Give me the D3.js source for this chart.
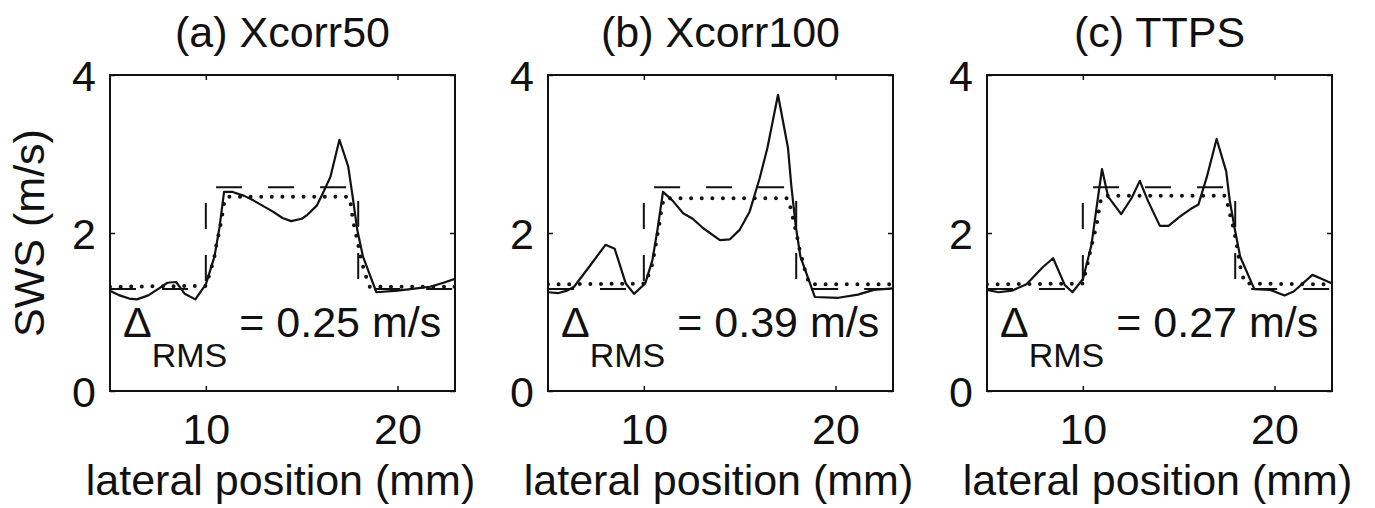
<!DOCTYPE html>
<html><head><meta charset="utf-8">
<script src="https://cdn.jsdelivr.net/npm/d3@7"></script>
<style>
html,body{margin:0;padding:0;background:#fff;}
svg{display:block;font-family:"Liberation Sans",Arial,sans-serif;}
</style></head>
<body>
<svg id="chart" width="1375" height="508"></svg>
<script>
// ---- data ----
const titles = ["(a) Xcorr50", "(b) Xcorr100", "(c) TTPS"];
const rmsValues = ["0.25", "0.39", "0.27"];
const xTicks = [10, 20];
const yTicks = [0, 2, 4];
const xDomain = [5, 23];
const yDomain = [0, 4];

// measured SWS (solid)
const xcorr50 = [[5,1.27],[5.5,1.21],[6,1.17],[6.4,1.16],[7,1.21],[7.5,1.29],[8,1.37],[8.45,1.38],[8.9,1.23],[9.45,1.16],[10,1.35],[10.45,1.70],[10.72,2.08],[10.95,2.52],[11.4,2.52],[12,2.47],[12.5,2.41],[13,2.34],[13.5,2.27],[14,2.19],[14.45,2.15],[15,2.18],[15.3,2.23],[15.8,2.35],[16.1,2.50],[16.5,2.71],[16.97,3.18],[17.43,2.84],[17.66,2.46],[17.9,2.04],[18.2,1.70],[18.9,1.25],[20,1.27],[21,1.30],[21.7,1.32],[22.4,1.37],[23,1.42]];
const xcorr100 = [[5,1.25],[5.55,1.24],[6.0,1.27],[6.36,1.32],[7.14,1.57],[8.0,1.85],[8.48,1.80],[9.06,1.36],[9.49,1.23],[10.07,1.36],[10.45,1.66],[10.71,2.04],[11.0,2.52],[11.5,2.41],[12.05,2.25],[12.55,2.18],[13.1,2.06],[13.97,1.91],[14.49,1.92],[15.0,2.04],[15.52,2.27],[16.04,2.69],[16.45,3.08],[17.0,3.75],[17.52,3.08],[17.69,2.61],[17.92,2.10],[18.17,1.70],[18.92,1.19],[20.15,1.18],[21.17,1.22],[22.0,1.28],[23,1.30]];
const ttps = [[5,1.28],[5.6,1.25],[6.3,1.27],[7.06,1.35],[7.92,1.57],[8.45,1.68],[9.06,1.34],[9.46,1.25],[10.01,1.42],[10.45,1.85],[10.71,2.31],[11.0,2.81],[11.32,2.46],[12.0,2.24],[12.54,2.44],[12.97,2.66],[13.41,2.40],[14.02,2.09],[14.47,2.09],[15.08,2.21],[15.6,2.30],[16.03,2.36],[16.47,2.71],[16.98,3.19],[17.48,2.78],[17.66,2.42],[17.92,2.06],[18.21,1.70],[18.95,1.29],[19.77,1.28],[20.52,1.21],[21.0,1.26],[21.98,1.47],[22.45,1.42],[23,1.36]];

// smoothed reference (dotted)
const ref50 = [[5,1.32],[10.02,1.33],[10.2,1.49],[10.42,1.66],[10.55,1.85],[10.67,1.99],[10.78,2.12],[10.9,2.29],[10.98,2.42],[11.1,2.46],[17.45,2.46],[17.55,2.38],[17.69,2.14],[17.83,1.99],[17.95,1.85],[18.07,1.70],[18.21,1.57],[18.42,1.40],[18.55,1.32],[23,1.32]];
const ref100 = [[5,1.35],[10.07,1.36],[10.28,1.49],[10.45,1.61],[10.62,1.85],[10.8,2.10],[10.94,2.33],[11.05,2.44],[17.5,2.44],[17.6,2.37],[17.72,2.25],[17.86,2.10],[18.0,1.95],[18.12,1.80],[18.3,1.63],[18.47,1.47],[18.65,1.35],[23,1.35]];
const refTTPS = [[5,1.35],[10.0,1.36],[10.05,1.42],[10.19,1.55],[10.42,1.80],[10.54,1.93],[10.68,2.06],[10.77,2.17],[10.84,2.29],[10.94,2.42],[11.05,2.47],[17.45,2.47],[17.61,2.31],[17.73,2.18],[17.88,2.04],[18.0,1.89],[18.1,1.74],[18.22,1.57],[18.36,1.44],[18.47,1.36],[23,1.35]];

// true step (dashed)
const trueX = [5, 10, 10, 17.95, 17.95, 23];
const trueY = [1.29, 1.29, 2.58, 2.58, 1.29, 1.29];

const solidSeries = [xcorr50, xcorr100, ttps];
const dottedSeries = [ref50, ref100, refTTPS];

// ---- layout ----
const svg = d3.select("#chart");
svg.append("rect").attr("width",1375).attr("height",508).attr("fill","#fff");
const panelLefts = [110, 548, 987];
const pw = 345, plotTop = 75, ph = 316;
const FS = 43;
const INK = "#111";

panelLefts.forEach((left, i) => {
  const x = d3.scaleLinear().domain(xDomain).range([0, pw]);
  const y = d3.scaleLinear().domain(yDomain).range([ph, 0]);
  const g = svg.append("g").attr("transform", `translate(${left},${plotTop})`);

  g.append("clipPath").attr("id", "clip" + i)
    .append("rect").attr("width", pw).attr("height", ph);

  const line = d3.line().x(d => x(d[0])).y(d => y(d[1]));
  const plot = g.append("g").attr("clip-path", `url(#clip${i})`);

  const truth = trueX.map((v, k) => [v, trueY[k]]);
  plot.append("path").attr("d", line(truth)).attr("fill","none")
    .attr("stroke",INK).attr("stroke-width",2).attr("stroke-dasharray","26,26");
  plot.append("path").attr("d", line(dottedSeries[i])).attr("fill","none")
    .attr("stroke",INK).attr("stroke-width",4).attr("stroke-linecap","round")
    .attr("stroke-dasharray","0,10.6");
  plot.append("path").attr("d", line(solidSeries[i])).attr("fill","none")
    .attr("stroke",INK).attr("stroke-width",2.2).attr("stroke-linejoin","round");

  // axes
  const fmt = d3.format("d");
  const ax = [
    g.append("g").attr("transform",`translate(0,${ph})`)
      .call(d3.axisBottom(x).tickValues(xTicks).tickFormat(fmt).tickSize(-5).tickPadding(22)),
    g.append("g").call(d3.axisTop(x).tickValues(xTicks).tickSize(-5).tickFormat("")),
    g.append("g").call(d3.axisLeft(y).tickValues(yTicks).tickFormat(fmt).tickSize(-5).tickPadding(14)),
    g.append("g").attr("transform",`translate(${pw},0)`)
      .call(d3.axisRight(y).tickValues(yTicks).tickSize(-5).tickFormat(""))
  ];
  ax.forEach(a => {
    a.select(".domain").remove();
    a.selectAll("line").attr("stroke",INK).attr("stroke-width",1.5);
    a.selectAll("text").attr("font-size",FS).attr("fill",INK)
      .attr("font-family","'Liberation Sans',Arial,sans-serif");
  });
  ax[2].selectAll("text").attr("dy","0.37em");

  g.append("rect").attr("width",pw).attr("height",ph).attr("fill","none")
    .attr("stroke",INK).attr("stroke-width",2);

  // title
  g.append("text").attr("x", pw/2).attr("y", 47 - plotTop).attr("text-anchor","middle")
    .attr("font-size", FS).attr("fill",INK).text(titles[i]);

  // x label
  g.append("text").attr("x", pw/2 - 2).attr("y", 495 - plotTop).attr("text-anchor","middle")
    .attr("font-size", FS).attr("fill",INK).text("lateral position (mm)");

  // delta RMS annotation
  const t = g.append("text").attr("x", 13).attr("y", 337 - plotTop)
    .attr("font-size", FS).attr("fill",INK);
  t.append("tspan").text("\u0394");
  t.append("tspan").attr("font-size", 34).attr("dy", 30).text("RMS");
  t.append("tspan").attr("dy", -30).text(" = " + rmsValues[i] + " m/s");
});

// y label
svg.append("text").attr("transform","translate(44,233) rotate(-90)")
  .attr("text-anchor","middle").attr("font-size",FS).attr("fill",INK)
  .text("SWS (m/s)");
</script>
</body></html>
